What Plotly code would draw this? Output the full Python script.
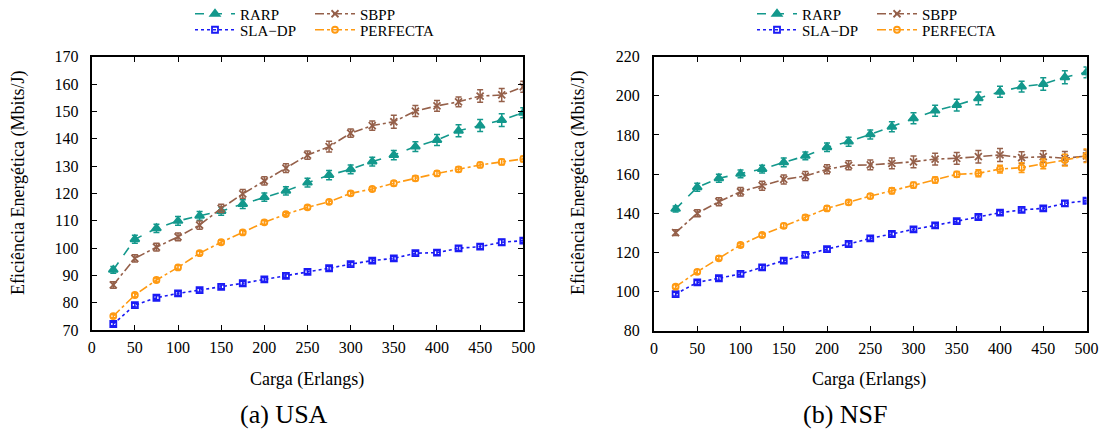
import plotly.graph_objects as go

carga = [25, 50, 75, 100, 125, 150, 175, 200, 225, 250, 275, 300, 325, 350, 375, 400, 425, 450, 475, 500]
x_ticks = [0, 50, 100, 150, 200, 250, 300, 350, 400, 450, 500]

# (a) USA
usa_rarp = [92.0, 103.2, 107.2, 109.9, 111.8, 113.5, 116.1, 118.6, 120.9, 123.9, 126.7, 128.8, 131.6, 134.0, 137.1, 139.5, 142.9, 144.8, 146.8, 149.5]
usa_rarp_err = [1.2, 1.5, 1.5, 1.6, 1.6, 1.5, 1.6, 1.5, 1.5, 1.6, 1.7, 1.6, 1.6, 1.7, 1.8, 2.0, 2.2, 2.2, 2.3, 1.8]
usa_sbpp = [86.5, 96.2, 100.3, 104.1, 108.4, 114.5, 119.8, 124.6, 129.2, 134.0, 137.1, 142.0, 144.8, 146.2, 150.1, 152.0, 153.5, 155.6, 156.0, 159.0]
usa_sbpp_err = [1.2, 1.3, 1.4, 1.4, 1.5, 1.5, 1.6, 1.5, 1.6, 1.5, 2.0, 1.5, 1.7, 2.4, 2.0, 2.0, 1.8, 2.3, 2.4, 2.0]
usa_sladp = [72.2, 79.1, 81.8, 83.4, 84.6, 85.8, 87.1, 88.5, 89.8, 91.3, 92.6, 94.1, 95.4, 96.2, 98.1, 98.3, 99.9, 100.5, 102.1, 102.7]
usa_sladp_err = [0.6, 0.7, 0.7, 0.7, 0.7, 0.7, 0.7, 0.7, 0.7, 0.7, 0.7, 0.7, 0.7, 0.7, 0.7, 0.8, 0.8, 0.8, 1.0, 0.8]
usa_perf = [75.1, 82.8, 88.3, 92.9, 98.1, 102.1, 105.7, 109.4, 112.4, 114.9, 116.9, 120.0, 121.6, 123.7, 125.5, 127.3, 128.8, 130.4, 131.5, 132.6]
usa_perf_err = [0.6, 0.7, 0.7, 0.7, 0.7, 0.7, 0.7, 0.7, 0.7, 0.7, 0.8, 0.8, 0.8, 0.9, 0.9, 0.9, 0.9, 0.9, 1.0, 1.0]

# (b) NSF
nsf_rarp = [142.2, 153.3, 157.9, 160.1, 162.6, 166.0, 169.3, 173.7, 176.6, 180.3, 184.2, 188.5, 192.4, 195.3, 198.7, 202.1, 204.7, 206.0, 209.5, 212.0]
nsf_rarp_err = [1.5, 2.0, 2.0, 2.0, 2.0, 2.2, 2.0, 2.2, 2.3, 2.3, 2.5, 2.8, 2.8, 3.0, 3.3, 2.8, 2.8, 3.2, 3.3, 2.8]
nsf_sbpp = [130.1, 140.0, 145.9, 151.0, 154.1, 157.3, 159.0, 162.5, 164.5, 164.7, 165.5, 166.3, 167.7, 168.1, 168.9, 169.8, 168.4, 168.9, 168.1, 169.3]
nsf_sbpp_err = [1.5, 1.8, 2.0, 2.2, 2.3, 2.3, 2.3, 2.3, 2.3, 2.5, 2.8, 3.0, 3.0, 3.0, 3.2, 3.3, 3.0, 3.0, 3.5, 3.0]
nsf_sladp = [98.7, 104.7, 106.8, 109.0, 112.4, 115.8, 118.7, 121.7, 124.3, 127.2, 129.4, 131.8, 133.8, 136.0, 138.1, 140.3, 141.7, 142.5, 145.1, 146.4]
nsf_sladp_err = [1.0, 1.0, 1.0, 1.0, 1.0, 1.0, 1.0, 1.0, 1.0, 1.0, 1.0, 1.0, 1.0, 1.0, 1.0, 1.0, 1.0, 1.0, 1.2, 1.2]
nsf_perf = [102.5, 110.1, 117.0, 123.8, 128.9, 133.6, 137.9, 142.5, 145.6, 148.8, 151.5, 154.4, 157.0, 159.9, 160.4, 162.6, 163.3, 165.2, 167.2, 169.4]
nsf_perf_err = [1.0, 1.0, 1.0, 1.0, 1.0, 1.2, 1.2, 1.2, 1.2, 1.2, 1.5, 1.5, 1.5, 1.5, 1.8, 2.0, 2.5, 2.5, 3.0, 3.5]

SLA = "SLA\u2212DP"
colors = {"RARP": "#13988c", "SBPP": "#95604a", SLA: "#1a1af5", "PERFECTA": "#ff9a12"}
dashes = {"RARP": "dash", "SBPP": "dashdot", SLA: "dot", "PERFECTA": "dashdot"}
symbols = {"RARP": "triangle-up", "SBPP": "x-thin-open", SLA: "square-open", "PERFECTA": "circle-open"}
msize = {"RARP": 8, "SBPP": 7, SLA: 6, "PERFECTA": 6}

FONT = "Liberation Serif, Times New Roman, serif"

W, H = 1105, 435
def px(X):
    return X / W
def py(Y):
    return 1 - Y / H

fig = go.Figure()

# legend slots (window px): (x_left, y_center)
leg_pos = {
    "legend2": (190, 14), "legend3": (190, 30), "legend4": (310, 14), "legend5": (310, 30),
    "legend6": (752, 14), "legend7": (752, 30), "legend8": (872, 14), "legend9": (872, 30),
}

panels = [
    ("x", "y", {"RARP": (usa_rarp, usa_rarp_err), "SBPP": (usa_sbpp, usa_sbpp_err),
                SLA: (usa_sladp, usa_sladp_err), "PERFECTA": (usa_perf, usa_perf_err)},
     {"RARP": "legend2", SLA: "legend3", "SBPP": "legend4", "PERFECTA": "legend5"}),
    ("x2", "y2", {"RARP": (nsf_rarp, nsf_rarp_err), "SBPP": (nsf_sbpp, nsf_sbpp_err),
                  SLA: (nsf_sladp, nsf_sladp_err), "PERFECTA": (nsf_perf, nsf_perf_err)},
     {"RARP": "legend6", SLA: "legend7", "SBPP": "legend8", "PERFECTA": "legend9"}),
]

for xa, ya, data, legmap in panels:
    for n in ["RARP", SLA, "SBPP", "PERFECTA"]:
        vals, errs = data[n]
        fig.add_trace(go.Scatter(
            x=carga, y=vals, name=n, xaxis=xa, yaxis=ya, legend=legmap[n],
            mode="lines+markers",
            line=dict(color=colors[n], width=1.6, dash=dashes[n]),
            marker=dict(symbol=symbols[n], size=msize[n], color=colors[n],
                        line=dict(color=colors[n], width=1.8)),
            error_y=dict(type="data", array=errs, visible=True, color=colors[n],
                         thickness=1.5, width=3),
        ))

axis_common = dict(
    showline=True, linecolor="black", linewidth=2, mirror="ticks",
    ticks="inside", ticklen=5, tickwidth=1, tickcolor="black",
    showgrid=False, zeroline=False, automargin=False, ticklabeloverflow="allow",
    tickfont=dict(family=FONT, size=16, color="black"),
)

fig.update_layout(
    width=W, height=H,
    margin=dict(l=0, r=0, t=0, b=0, pad=0, autoexpand=False),
    paper_bgcolor="white", plot_bgcolor="white",
    font=dict(family=FONT, color="black"),
    showlegend=True,
    xaxis=dict(domain=[px(91.7), px(523.3)], range=[0, 500], tickvals=x_ticks, anchor="y",
               ticklabelstandoff=2, **axis_common),
    yaxis=dict(domain=[py(330), py(56.7)], range=[70, 170], dtick=10, anchor="x",
               ticklabelstandoff=8, **axis_common),
    xaxis2=dict(domain=[px(654), px(1086.5)], range=[0, 500], tickvals=x_ticks, anchor="y2",
                ticklabelstandoff=2, **axis_common),
    yaxis2=dict(domain=[py(330.7), py(56.7)], range=[80, 220], dtick=20, anchor="x2",
                ticklabelstandoff=9, **axis_common),
)

leg_common = dict(orientation="v", xanchor="left", yanchor="middle", bgcolor="rgba(0,0,0,0)",
                  font=dict(family=FONT, size=15, color="black"), itemwidth=40)
fig.update_layout({k: dict(x=px(v[0]), y=py(v[1]), **leg_common) for k, v in leg_pos.items()})

def note(text, xc, yc, size, angle=0):
    fig.add_annotation(text=text, x=px(xc), y=py(yc), xref="paper", yref="paper",
                       xanchor="center", yanchor="middle", textangle=angle, showarrow=False,
                       font=dict(family=FONT, size=size, color="black"))

ytitle = "Eficiência Energética (Mbits/J)"
note(ytitle, 19, 183, 18, -90)
note(ytitle, 579, 183, 18, -90)
note("Carga (Erlangs)", 307, 379, 18)
note("Carga (Erlangs)", 869, 379, 18)
note("(a) USA", 284, 414, 26)
note("(b) NSF", 846, 414, 26)

fig.write_html("out.html", config={"displayModeBar": False},
               post_script="document.body.style.margin='0px';")
